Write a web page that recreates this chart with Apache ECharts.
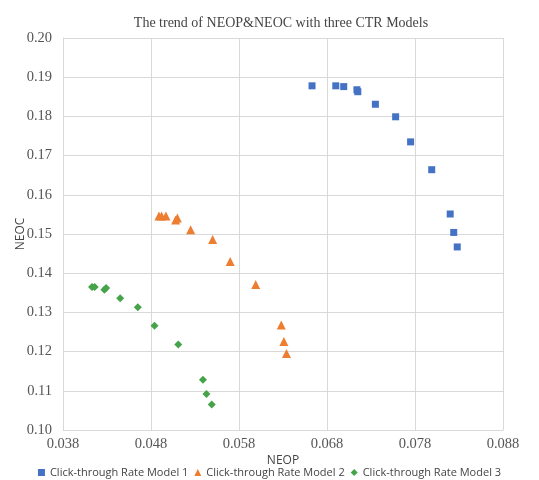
<!DOCTYPE html>
<html><head><meta charset="utf-8">
<script src="https://cdn.jsdelivr.net/npm/echarts@6/dist/echarts.min.js"></script>
<style>html,body{margin:0;padding:0;background:#fff}#c{width:539px;height:480px}</style>
</head><body><div id="c"></div>
<script>
var title = 'The trend of NEOP&NEOC with three CTR Models';
var seriesNames = ['Click-through Rate Model 1','Click-through Rate Model 2','Click-through Rate Model 3'];
var m1x = [0.0663,0.0690,0.0699,0.0714,0.0715,0.0735,0.0758,0.0775,0.0799,0.0820,0.0824,0.0828];
var m1y = [0.1878,0.1878,0.1876,0.1868,0.1863,0.1831,0.1799,0.1735,0.1664,0.1551,0.1504,0.1467];
var m2x = [0.0489,0.0492,0.0497,0.0508,0.0510,0.0525,0.0550,0.0570,0.0599,0.0628,0.0631,0.0634];
var m2y = [0.1546,0.1546,0.1546,0.1536,0.1541,0.1511,0.1486,0.1430,0.1371,0.1268,0.1226,0.1195];
var m3x = [0.0413,0.0416,0.0427,0.0429,0.0445,0.0465,0.0484,0.0511,0.0539,0.0543,0.0549];
var m3y = [0.1365,0.1365,0.1358,0.1362,0.1336,0.1313,0.1266,0.1218,0.1128,0.1092,0.1065];
var colors = ['#4472C4','#ED7D31','#45A34A'];
var symbols = ['rect','triangle','diamond'];
var sizes = [7,9,8];
function pairs(xs, ys){ return xs.map(function(x,i){ return [x, ys[i]]; }); }
var data = [pairs(m1x,m1y), pairs(m2x,m2y), pairs(m3x,m3y)];
var chart = echarts.init(document.getElementById('c'), null, {renderer:'canvas'});
var serif = '"Liberation Serif","DejaVu Serif",serif';
var sans = '"Open Sans","Liberation Sans",sans-serif';
chart.setOption({
  animation:false,
  title:{text:title,left:276,top:11,textAlign:'center',textStyle:{fontFamily:serif,fontSize:14,fontWeight:'normal',color:'#444'}},
  legend:{top:462,left:'center',itemWidth:7,itemHeight:7,itemGap:6,textStyle:{fontFamily:sans,fontSize:11,color:'#444'},
    data:seriesNames.map(function(n,i){return {name:n,icon:symbols[i]};})},
  grid:{left:63,right:36,top:38,bottom:50,containLabel:false,outerBoundsMode:'none'},
  xAxis:{type:'value',min:0.038,max:0.088,interval:0.01,name:'NEOP',nameLocation:'middle',nameGap:25,nameMoveOverlap:false,
    nameTextStyle:{fontFamily:sans,fontSize:12,color:'#444'},
    axisLine:{show:true,lineStyle:{color:'#d9d9d9'}},axisTick:{show:false},
    splitLine:{show:true,lineStyle:{color:'#d9d9d9'}},
    axisLabel:{fontFamily:serif,fontSize:14.5,color:'#555',margin:7,formatter:function(v){return v.toFixed(3);}}},
  yAxis:{type:'value',min:0.10,max:0.20,interval:0.01,name:'NEOC',nameLocation:'middle',nameGap:36,nameMoveOverlap:false,
    nameTextStyle:{fontFamily:sans,fontSize:12,color:'#444'},
    axisLine:{show:true,lineStyle:{color:'#d9d9d9'}},axisTick:{show:false},
    splitLine:{show:true,lineStyle:{color:'#d9d9d9'}},
    axisLabel:{fontFamily:serif,fontSize:14.5,color:'#555',margin:11,formatter:function(v){return v.toFixed(2);}}},
  series:data.map(function(d,i){return {name:seriesNames[i],type:'scatter',data:d,symbol:symbols[i],symbolSize:sizes[i],itemStyle:{color:colors[i],opacity:1}};})
});
</script></body></html>
